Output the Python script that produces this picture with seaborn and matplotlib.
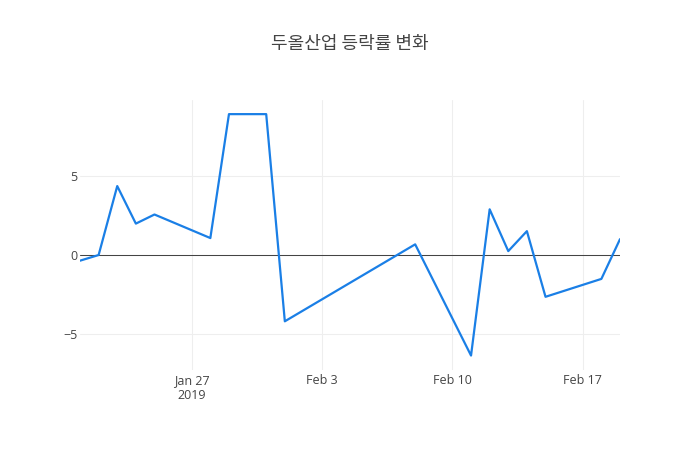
import pandas as pd
import seaborn as sns
import matplotlib.pyplot as plt

# 등락률 데이터
dates = ["2019-01-21", "2019-01-22", "2019-01-23", "2019-01-24", "2019-01-25",
         "2019-01-28", "2019-01-29", "2019-01-30", "2019-01-31", "2019-02-01",
         "2019-02-08", "2019-02-11", "2019-02-12", "2019-02-13", "2019-02-14",
         "2019-02-15", "2019-02-18", "2019-02-19"]
rates = [-0.36, 0.0, 4.39, 2.0, 2.58,
         1.08, 8.97, 8.97, 8.97, -4.22,
         0.68, -6.4, 2.91, 0.25, 1.52,
         -2.66, -1.52, 1.01]
title = "두올산업 등락률 변화"

df = pd.DataFrame({"date": pd.to_datetime(dates), "rate": rates})

sns.set_style("white")
plt.rcParams['font.family'] = ['Open Sans', 'Noto Sans CJK KR', 'DejaVu Sans']

fig = plt.figure(figsize=(7, 4.5), dpi=100)
ax = fig.add_axes([80 / 700, 80 / 450, 540 / 700, 270 / 450])

sns.lineplot(data=df, x="date", y="rate", ax=ax, color="#1a7fe6", linewidth=1.6)

ax.set_xlim(df["date"].min(), df["date"].max())
ax.set_ylim(-7.32, 9.87)
ax.set_yticks([-5, 0, 5])
ax.set_yticklabels(["\u22125", "0", "5"])
ticks = pd.to_datetime(["2019-01-27", "2019-02-03", "2019-02-10", "2019-02-17"])
ax.set_xticks(ticks)
ax.set_xticklabels(["Jan 27\n2019", "Feb 3", "Feb 10", "Feb 17"])

ax.grid(True, color="#eeeeee", linewidth=0.75)
ax.axhline(0, color="#444444", linewidth=0.75, zorder=1)
for s in ax.spines.values():
    s.set_visible(False)
ax.tick_params(length=0, labelsize=9, colors="#444444")
ax.tick_params(axis="x", pad=3)
ax.tick_params(axis="y", pad=2)
ax.set_xlabel("")
ax.set_ylabel("")

fig.text(0.5, 1 - 44 / 450, title, ha="center", va="center", fontsize=13, color="#444444",
         family=['Noto Sans CJK KR', 'DejaVu Sans'])

fig.savefig("out.png", dpi=100)
